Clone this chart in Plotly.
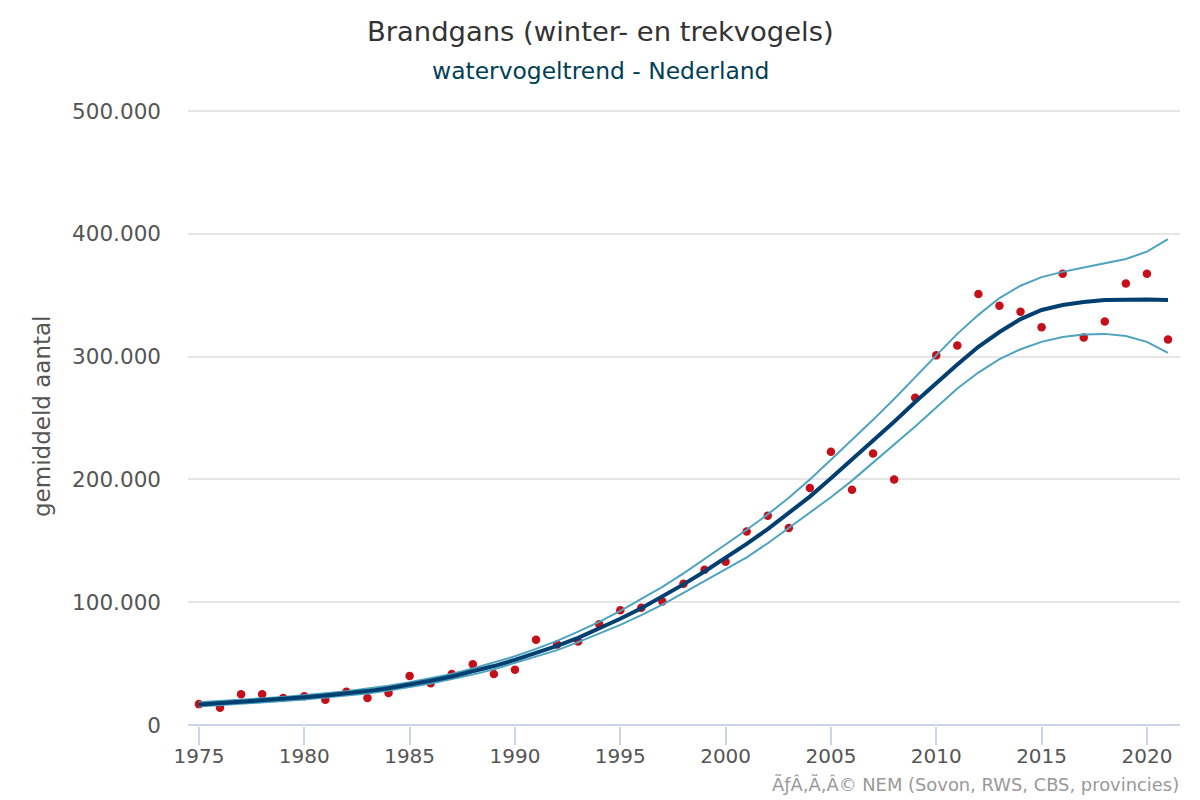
import plotly.graph_objects as go

years = list(range(1975, 2022))
counts = [17000,14000,25000,25000,22000,23500,20500,27000,22000,26000,40000,34000,41500,49500,41500,45000,
          69500,65500,68000,82000,93500,95500,100500,115000,126500,133000,157500,170500,160500,193000,222500,
          191500,221000,200000,266500,301000,309000,351000,341500,336500,324000,367500,315500,328500,359500,367500,314000]
trend = [16700,17700,18800,20000,21200,22500,24000,25700,27600,30000,32700,36000,39500,43500,48000,53000,
         58500,64500,71000,78500,86500,95000,104500,114500,125000,136000,147500,159500,172500,186000,201000,
         216000,231000,247000,263000,278500,293500,308000,320000,330500,338000,342000,344500,346000,346500,346500,346000]
upper = [18500,19400,20500,21700,22900,24200,25800,27500,29600,32000,34800,38000,41600,46000,50700,56000,
         62000,68500,76000,84000,93000,102500,112500,123500,135000,147000,159000,171500,185000,200000,216000,
         232000,248500,265500,283500,301000,318500,334000,347700,357700,364700,369000,372500,376000,379500,385500,395700]
lower = [15000,16000,17100,18300,19500,20800,22200,23900,25600,28000,30600,33800,37400,41000,45300,50500,
         55500,61000,67500,74500,81500,89500,98000,107500,117000,126500,136500,148000,160500,172500,185500,
         199000,213500,228000,243000,258500,274000,287000,298000,306000,312000,316000,318000,318500,316700,312000,303000]
title_text = "Brandgans (winter- en trekvogels)"
subtitle_text = "watervogeltrend - Nederland"
y_title = "gemiddeld aantal"
credit = "ÃƒÂ‚Ã‚Â© NEM (Sovon, RWS, CBS, provincies)"
y_ticks = [0,100000,200000,300000,400000,500000]
y_labels = ["0","100.000","200.000","300.000","400.000","500.000"]
x_ticks = list(range(1975, 2021, 5))

FONT = "DejaVu Sans"
W, H = 1200, 800
L, R, T, B = 188, 20, 108, 74
PW, PH = W-L-R, H-T-B

def px(x): return (x-L)/PW
def py(y): return 1-(y-T)/PH

fig = go.Figure()
fig.add_trace(go.Scatter(x=years, y=counts, mode="markers", name="telling",
                         marker=dict(color="#c5101a", size=8.5)))
fig.add_trace(go.Scatter(x=years, y=upper, mode="lines", name="bovengrens",
                         line=dict(color="#4da3c0", width=2)))
fig.add_trace(go.Scatter(x=years, y=lower, mode="lines", name="ondergrens",
                         line=dict(color="#4da3c0", width=2)))
fig.add_trace(go.Scatter(x=years, y=trend, mode="lines", name="trend",
                         line=dict(color="#003f6f", width=4)))

fig.update_layout(
    width=W, height=H, autosize=False, showlegend=False,
    paper_bgcolor="white", plot_bgcolor="white",
    margin=dict(l=L, r=R, t=T, b=B),
    font=dict(family=FONT, color="#555555"),
)
fig.add_annotation(text=title_text, xref="paper", yref="paper", x=px(600), y=py(32),
                   showarrow=False, font=dict(size=27.4, color="#333333", family=FONT), yanchor="middle")
fig.add_annotation(text=subtitle_text, xref="paper", yref="paper", x=px(600), y=py(71),
                   showarrow=False, font=dict(size=23.4, color="#003f55", family=FONT), yanchor="middle")
fig.add_annotation(text=credit, xref="paper", yref="paper", x=px(1181), y=py(784), xanchor="right",
                   showarrow=False, font=dict(size=17.9, color="#999999", family=FONT), yanchor="middle")
fig.add_annotation(text=y_title, xref="paper", yref="paper", x=px(42), y=py(417), textangle=-90,
                   showarrow=False, font=dict(size=23, color="#555555", family=FONT), yanchor="middle", xanchor="center")
fig.update_xaxes(range=[1974.48, 2021.57], tickvals=x_ticks, ticks="outside", ticklen=18, tickwidth=2,
                 tickcolor="#ccd6eb", showline=False, showgrid=False, zeroline=False,
                 ticklabelstandoff=-6, tickfont=dict(size=20, color="#555555", family=FONT))
fig.update_yaxes(range=[-814, 502443], tickvals=y_ticks, ticktext=y_labels, ticks="", showgrid=True,
                 gridcolor="#e6e6e6", gridwidth=2, zeroline=True, zerolinecolor="#ccd6eb", zerolinewidth=2,
                 showline=False, ticklabelstandoff=26, tickfont=dict(size=21.5, color="#555555", family=FONT))
fig.write_html("out.html", config=dict(displayModeBar=False),
               post_script="document.body.style.margin='0';document.documentElement.style.overflow='hidden';")
